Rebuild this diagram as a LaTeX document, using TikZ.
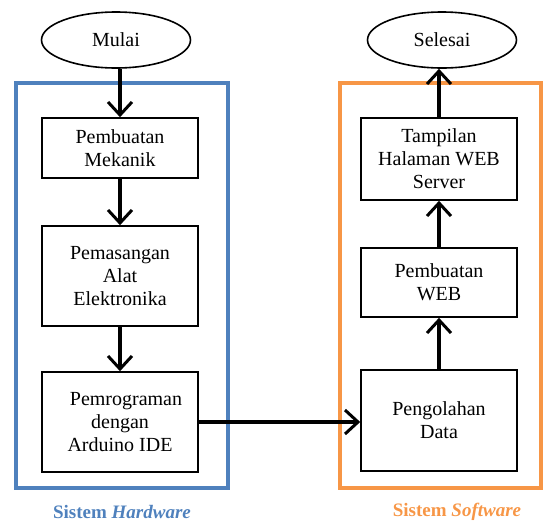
\documentclass[tikz,border=0pt]{standalone}
\usepackage{fontspec}
\setmainfont{Liberation Serif}
\usetikzlibrary{arrows.meta,shapes.geometric}
\definecolor{hwblue}{HTML}{4F81BD}
\definecolor{swora}{HTML}{F79646}
\tikzset{
  basebox/.style={draw=black,line width=1.6pt,fill=white,align=center,
    font=\fontsize{20}{23}\selectfont,inner sep=2pt},
  stepbox/.style={basebox,rectangle,minimum width=156pt},
  termbox/.style={basebox,ellipse,minimum width=149pt,minimum height=56pt},
  flow/.style={-{Straight Barb[length=13pt,width=24pt,line width=3pt]},line width=3.6pt,draw=black},
  frame/.style={line width=3.8pt},
  sysname/.style={font=\fontsize{19}{22}\selectfont\bfseries}
}
\begin{document}
\begin{tikzpicture}[x=1pt,y=-1pt]
    \useasboundingbox (0,0) rectangle (543,523);

    % kerangka sistem
    \draw[frame,draw=hwblue] (16,83) rectangle (228,488);
    \draw[frame,draw=swora] (340,83) rectangle (541,488);
    \node[sysname,text=hwblue] (hwlab) at (122,512) {Sistem \textit{Hardware}};
    \node[sysname,text=swora] (swlab) at (457,512) {Sistem \textit{Software}};

    \node[termbox] (mulai) at (116,40) {Mulai};
    \node[termbox] (selesai) at (442,40) {Selesai};

    \node[stepbox,minimum height=60pt] (mekanik) at (120,148) {Pembuatan\\Mekanik};
    \node[stepbox,minimum height=100pt] (pasang) at (120,276) {Pemasangan\\Alat\\Elektronika};
    \node[stepbox,minimum height=100pt] (program) at (120,422) {\hspace*{12pt}Pemrograman\\dengan\\Arduino IDE};

    \node[stepbox,minimum height=82pt] (tampil) at (439,159) {Tampilan\\Halaman WEB\\Server};
    \node[stepbox,minimum height=69pt] (web) at (439,282.5) {Pembuatan\\WEB};
    \node[stepbox,minimum height=101pt] (olah) at (439,420.5) {Pengolahan\\Data};

    \draw[flow] (mekanik.north |- mulai.south) -- (mekanik.north);
    \draw[flow] (mekanik) -- (pasang);
    \draw[flow] (pasang) -- (program);
    \draw[flow] (program.east) -- (program.east -| olah.west);
    \draw[flow] (olah) -- (web);
    \draw[flow] (web) -- (tampil);
    \draw[flow] (tampil.north) -- (tampil.north |- selesai.south);
  \end{tikzpicture}
\end{document}
